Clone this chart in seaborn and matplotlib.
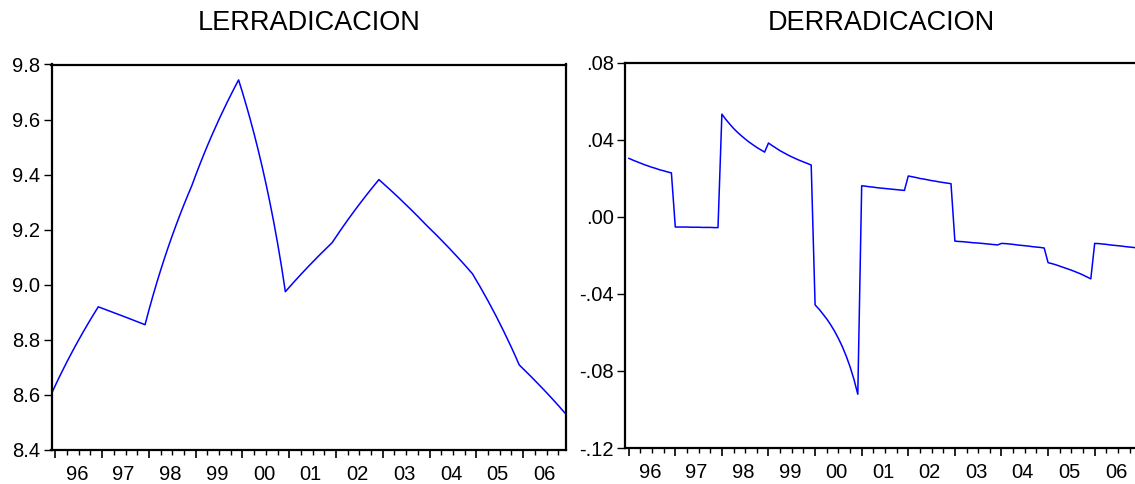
import numpy as np
import pandas as pd
import matplotlib
matplotlib.use("Agg")
import matplotlib.pyplot as plt
import seaborn as sns

# ---------------- data (monthly, Dec 1995 .. Dec 2006) ----------------
lerradicacion = [
    8.6050,
    8.6354, 8.6649, 8.6935, 8.7214, 8.7485, 8.7749, 8.8006, 8.8256, 8.8501, 8.8740, 8.8973, 8.9200,
    8.9147, 8.9095, 8.9041, 8.8988, 8.8934, 8.8880, 8.8826, 8.8771, 8.8717, 8.8661, 8.8606, 8.8550,
    8.9083, 8.9589, 9.0071, 9.0530, 9.0970, 9.1390, 9.1794, 9.2182, 9.2556, 9.2916, 9.3264, 9.3600,
    9.3983, 9.4351, 9.4707, 9.5050, 9.5382, 9.5703, 9.6015, 9.6316, 9.6609, 9.6894, 9.7171, 9.7440,
    9.6983, 9.6503, 9.6000, 9.5470, 9.4910, 9.4317, 9.3686, 9.3013, 9.2292, 9.1514, 9.0671, 8.9750,
    8.9911, 9.0070, 9.0226, 9.0379, 9.0531, 9.0680, 9.0826, 9.0971, 9.1114, 9.1254, 9.1393, 9.1530,
    9.1742, 9.1950, 9.2153, 9.2353, 9.2549, 9.2740, 9.2929, 9.3113, 9.3295, 9.3473, 9.3648, 9.3820,
    9.3694, 9.3566, 9.3437, 9.3306, 9.3173, 9.3038, 9.2902, 9.2763, 9.2623, 9.2481, 9.2336, 9.2190,
    9.2052, 9.1913, 9.1772, 9.1628, 9.1483, 9.1335, 9.1185, 9.1033, 9.0878, 9.0722, 9.0562, 9.0400,
    9.0162, 8.9919, 8.9670, 8.9414, 8.9151, 8.8881, 8.8604, 8.8319, 8.8026, 8.7724, 8.7412, 8.7090,
    8.6952, 8.6813, 8.6672, 8.6528, 8.6383, 8.6235, 8.6085, 8.5933, 8.5778, 8.5622, 8.5462, 8.5300,
]

# monthly values, Jan 1996 .. Dec 2006
derradicacion = [
    0.0304, 0.0295, 0.0287, 0.0279, 0.0271, 0.0264, 0.0257, 0.0251, 0.0244, 0.0239, 0.0233, 0.0228,
    -0.0053, -0.0053, -0.0053, -0.0053, -0.0054, -0.0054, -0.0054, -0.0055, -0.0055, -0.0055, -0.0056, -0.0056,
    0.0533, 0.0506, 0.0482, 0.0459, 0.0439, 0.0421, 0.0404, 0.0388, 0.0374, 0.0360, 0.0348, 0.0336,
    0.0383, 0.0369, 0.0356, 0.0343, 0.0332, 0.0321, 0.0311, 0.0302, 0.0293, 0.0285, 0.0277, 0.0269,
    -0.0457, -0.0479, -0.0504, -0.0530, -0.0560, -0.0593, -0.0631, -0.0673, -0.0722, -0.0778, -0.0843, -0.0921,
    0.0161, 0.0159, 0.0156, 0.0154, 0.0151, 0.0149, 0.0147, 0.0145, 0.0143, 0.0141, 0.0139, 0.0137,
    0.0212, 0.0208, 0.0204, 0.0199, 0.0196, 0.0192, 0.0188, 0.0185, 0.0181, 0.0178, 0.0175, 0.0172,
    -0.0126, -0.0128, -0.0129, -0.0131, -0.0133, -0.0135, -0.0136, -0.0138, -0.0140, -0.0142, -0.0144, -0.0146,
    -0.0138, -0.0139, -0.0141, -0.0143, -0.0146, -0.0148, -0.0150, -0.0152, -0.0155, -0.0157, -0.0159, -0.0162,
    -0.0238, -0.0243, -0.0249, -0.0256, -0.0263, -0.0270, -0.0277, -0.0285, -0.0293, -0.0302, -0.0312, -0.0322,
    -0.0138, -0.0139, -0.0141, -0.0143, -0.0146, -0.0148, -0.0150, -0.0152, -0.0155, -0.0157, -0.0159, -0.0162,
]

year_labels = ["96", "97", "98", "99", "00", "01", "02", "03", "04", "05", "06"]
years = list(range(1996, 2007))
left_yticks = [8.4, 8.6, 8.8, 9.0, 9.2, 9.4, 9.6, 9.8]
left_ylabels = ["8.4", "8.6", "8.8", "9.0", "9.2", "9.4", "9.6", "9.8"]
right_yticks = [-0.12, -0.08, -0.04, 0.00, 0.04, 0.08]
right_ylabels = ["-.12", "-.08", "-.04", ".00", ".04", ".08"]

# ---------------- frames ----------------
d1 = pd.date_range("1995-12-01", periods=len(lerradicacion), freq="MS")
df1 = pd.DataFrame({"t": d1.year + (d1.month - 1) / 12.0, "v": lerradicacion})
d2 = pd.date_range("1996-01-01", periods=len(derradicacion), freq="MS")
df2 = pd.DataFrame({"t": d2.year + (d2.month - 1) / 12.0, "v": derradicacion})

sns.set_style("white")
plt.rcParams["font.family"] = ["Liberation Sans", "DejaVu Sans"]

W, H = 1135, 484
fig = plt.figure(figsize=(W / 100, H / 100), dpi=100)
ax1 = fig.add_axes([51.5 / W, (H - 450) / H, 514.5 / W, 385.5 / H])
ax2 = fig.add_axes([624.8 / W, (H - 448) / H, 512.6 / W, 385.3 / H])

BLUE = "#0000FF"
sns.lineplot(data=df1, x="t", y="v", ax=ax1, color=BLUE, linewidth=1.1,
             estimator=None, sort=False)
sns.lineplot(data=df2, x="t", y="v", ax=ax2, color=BLUE, linewidth=1.1,
             estimator=None, sort=False)

x0 = 1995 + 11 / 12
x1 = 2006 + 11 / 12
major = np.array(years, dtype=float)
minor = np.array([y + q / 12 for y in years for q in (3, 6, 9)])
label_pos = major + 5.5 / 12

def style(ax, yt, yl, ylim, title, tpad):
    ax.set_xlim(x0, x1)
    ax.set_ylim(*ylim)
    ax.set_xlabel("")
    ax.set_ylabel("")
    for s in ax.spines.values():
        s.set_visible(True)
        s.set_linewidth(1.6)
        s.set_color("black")
    ax.set_xticks(major)
    ax.set_xticks(minor, minor=True)
    ax.tick_params(axis="x", which="major", direction="out", length=6.0,
                   width=1.2, color="black", bottom=True, labelbottom=False)
    ax.tick_params(axis="x", which="minor", direction="out", length=3.5,
                   width=1.0, color="black", bottom=True, labelbottom=False)
    ax.set_yticks(yt, yl)
    ax.tick_params(axis="y", which="major", direction="out", length=5.5,
                   width=1.0, color="black", left=True, pad=2.5,
                   labelsize=14.5, labelcolor="black")
    sec = ax.secondary_xaxis("bottom")
    sec.set_xticks(label_pos, year_labels)
    sec.tick_params(length=0, pad=11, labelsize=14.5, labelcolor="black")
    sec.spines["bottom"].set_visible(False)
    ax.set_title(title, fontsize=19.5, pad=tpad, color="black")
    ax.grid(False)

style(ax1, left_yticks, left_ylabels, (8.4, 9.8), "LERRADICACION", 24.6)
style(ax2, right_yticks, right_ylabels, (-0.12, 0.08), "DERRADICACION", 23.3)

fig.savefig("out.png", dpi=100, facecolor="white")
